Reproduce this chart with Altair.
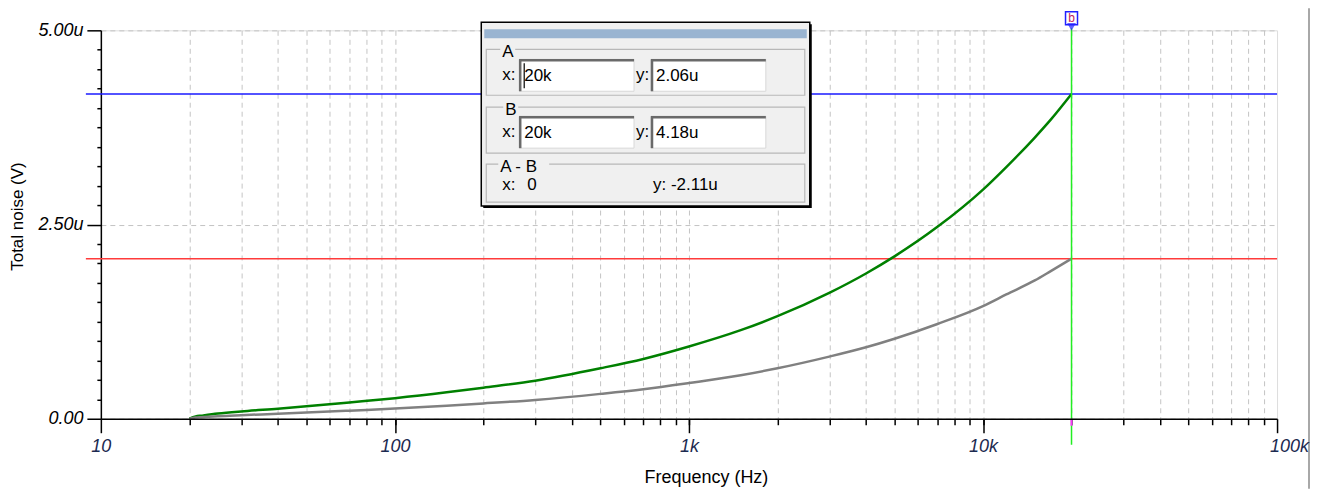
import altair as alt
import pandas as pd

# ---------------- data ----------------
freq_hz = [20, 21, 22, 25, 30, 40, 50, 70, 100, 150, 200, 300, 500, 700,
           1000, 1500, 2000, 3000, 4000, 5000, 7000, 10000, 12000, 15000, 17000, 20000]
noise_green_u = [0.0, 0.03, 0.04, 0.066, 0.094, 0.13, 0.16, 0.21, 0.265, 0.34, 0.40,
                 0.49, 0.65, 0.77, 0.93, 1.14, 1.32, 1.62, 1.87, 2.09, 2.47, 2.95, 3.24,
                 3.62, 3.85, 4.18]
noise_gray_u = [0.0, 0.015, 0.02, 0.033, 0.046, 0.064, 0.079, 0.104, 0.131, 0.168, 0.197,
                0.242, 0.32, 0.38, 0.46, 0.56, 0.65, 0.80, 0.92, 1.03, 1.22, 1.45, 1.60,
                1.78, 1.90, 2.06]

x_major_ticks = [10, 100, 1000, 10000, 100000]
x_minor_ticks = [20, 30, 40, 50, 60, 70, 80, 90,
                 100, 200, 300, 400, 500, 600, 700, 800, 900,
                 1000, 2000, 3000, 4000, 5000, 6000, 7000, 8000, 9000,
                 10000, 20000, 30000, 40000, 50000, 60000, 70000, 80000, 90000]
y_major_ticks = [0, 2.5, 5]
y_minor_ticks = [0.25, 0.5, 0.75, 1.0, 1.25, 1.5, 1.75, 2.0, 2.25, 2.75, 3.0, 3.25,
                 3.5, 3.75, 4.0, 4.25, 4.5, 4.75]

cursor_x = [20000]
cursor_a = [2.06]
cursor_b = [4.18]
cursor_labels = ["A", "B", "A - B"]
cursor_x_text = ["20k", "20k", "0"]
cursor_y_text = ["2.06u", "4.18u", "-2.11u"]

# ---------------- layout ----------------
W, H = 1178, 389
OX, OY = 101, 30  # page position of the plot origin
FONT = "Liberation Sans"

def px(x):
    return x - OX

def py(y):
    return y - OY

one = pd.DataFrame({"a": [0]})

xscale = alt.Scale(type="log", domain=[10, 100000], nice=False)
yscale = alt.Scale(domain=[0, 5], nice=False, zero=False)

long_df = pd.DataFrame({
    "f": freq_hz + freq_hz,
    "v": noise_green_u + noise_gray_u,
    "s": ["green"] * len(freq_hz) + ["gray"] * len(freq_hz),
})

x_major_axis = alt.Axis(
    values=x_major_ticks, orient="bottom", tickSize=14, tickWidth=1.5, tickColor="black",
    domainColor="black", domainWidth=1.5, grid=False, zindex=1,
    labelExpr="datum.value >= 1000 ? (datum.value / 1000) + 'k' : datum.value",
    labelFont=FONT, labelFontSize=18, labelFontStyle="italic", labelColor="#1c2a50",
    labelPadding=5, labelFlush=False, labelOverlap=False,
    labelOffset={"condition": {"test": "datum.value == 100000", "value": 12}, "value": 0},
    title="Frequency (Hz)", titleFont=FONT, titleFontSize=18, titleFontWeight="normal",
    titleColor="black", titleX=606, titleY=59, titleBaseline="middle", titleAlign="center",
)
x_minor_axis = alt.Axis(
    values=x_minor_ticks, orient="bottom", tickSize=6, tickWidth=1.5, tickColor="black",
    domain=False, labels=False, title=None, grid=True, gridColor="#c4c4c4",
    gridDash=[5, 4], gridWidth=1,
)
y_major_axis = alt.Axis(
    values=y_major_ticks, orient="left", tickSize=14, tickWidth=1.5, tickColor="black",
    domainColor="black", domainWidth=1.5, grid=True, gridColor="#c4c4c4", gridDash=[5, 4],
    labelExpr="format(datum.value, '.2f') + (datum.value == 0 ? '' : 'u')",
    labelFont=FONT, labelFontSize=18, labelFontStyle="italic", labelColor="black",
    labelPadding=4, labelFlush=False, labelOverlap=False,
    title="Total noise (V)", titleFont=FONT, titleFontSize=17, titleFontWeight="normal",
    titleColor="black", titleX=-83, titleY=186, titleAngle=270, titleBaseline="middle",
    titleAlign="center",
)
y_minor_axis = alt.Axis(
    values=y_minor_ticks, orient="left", tickSize=4, tickWidth=1.5, tickColor="black",
    domain=False, labels=False, title=None, grid=False,
)

minor_layer = alt.Chart(long_df).mark_point(opacity=0).encode(
    x=alt.X("f:Q", scale=xscale, axis=x_minor_axis),
    y=alt.Y("v:Q", scale=yscale, axis=y_minor_axis),
)

cursor_a_line = alt.Chart(pd.DataFrame({"v": cursor_a})).mark_rule(
    color="#ff3b3b", strokeWidth=1.5, clip=False
).encode(y=alt.Y("v:Q", scale=yscale, axis=None), x=alt.value(-15), x2=alt.value(W))

cursor_b_line = alt.Chart(pd.DataFrame({"v": cursor_b})).mark_rule(
    color="#1a1aff", strokeWidth=1.5, clip=False
).encode(y=alt.Y("v:Q", scale=yscale, axis=None), x=alt.value(-15), x2=alt.value(W))

curves = alt.Chart(long_df).mark_line(strokeWidth=2.5, interpolate="monotone").encode(
    x=alt.X("f:Q", scale=xscale, axis=x_major_axis),
    y=alt.Y("v:Q", scale=yscale, axis=y_major_axis),
    color=alt.Color("s:N", scale=alt.Scale(domain=["green", "gray"],
                                           range=["#008000", "#808080"]), legend=None),
    detail="s:N",
)

cursor_df = pd.DataFrame({"f": cursor_x})
cursor_v = alt.Chart(cursor_df).mark_rule(color="#22ee22", strokeWidth=1.5, clip=False).encode(
    x=alt.X("f:Q", scale=xscale, axis=None), y=alt.value(py(28)), y2=alt.value(py(445)))
cursor_mag = alt.Chart(cursor_df).mark_rule(color="#ff33ff", strokeWidth=2, clip=False).encode(
    x=alt.X("f:Q", scale=xscale, axis=None), y=alt.value(py(419)), y2=alt.value(py(426)))
marker_box = alt.Chart(cursor_df).mark_rect(
    fill="white", stroke="#2020ff", strokeWidth=1.5, clip=False, width=12, height=13
).encode(x=alt.X("f:Q", scale=xscale, axis=None), y=alt.value(py(18)))
marker_tip = alt.Chart(cursor_df).mark_point(
    shape="triangle-down", fill="#2020ff", stroke="#2020ff", size=30, filled=True, clip=False
).encode(x=alt.X("f:Q", scale=xscale, axis=None), y=alt.value(py(26)))
marker_txt = alt.Chart(cursor_df).mark_text(
    text="b", font=FONT, fontSize=12, color="#c02060", clip=False, baseline="middle"
).encode(x=alt.X("f:Q", scale=xscale, axis=None), y=alt.value(py(18)))


def rect(x1, y1, x2, y2, fill="none", stroke=None, sw=1.0):
    kw = dict(clip=False)
    if fill != "none":
        kw["fill"] = fill
    else:
        kw["fillOpacity"] = 0
    if stroke:
        kw["stroke"] = stroke
        kw["strokeWidth"] = sw
    return alt.Chart(one).mark_rect(**kw).encode(
        x=alt.value(px(x1)), x2=alt.value(px(x2)), y=alt.value(py(y1)), y2=alt.value(py(y2)))


def hline(x1, x2, y, color, sw=1.0):
    return alt.Chart(one).mark_rule(color=color, strokeWidth=sw, clip=False).encode(
        x=alt.value(px(x1)), x2=alt.value(px(x2)), y=alt.value(py(y)))


def vline(x, y1, y2, color, sw=1.0):
    return alt.Chart(one).mark_rule(color=color, strokeWidth=sw, clip=False).encode(
        x=alt.value(px(x)), y=alt.value(py(y1)), y2=alt.value(py(y2)))


def text(x, y, s, size=17, color="black", align="left"):
    return alt.Chart(one).mark_text(
        text=s, font=FONT, fontSize=size, color=color, align=align, baseline="middle", clip=False
    ).encode(x=alt.value(px(x)), y=alt.value(py(y)))


def field(x1, y1, x2, y2, s):
    return [
        rect(x1, y1, x2, y2, fill="white", stroke="#d8d8d8", sw=1),
        hline(x1, x2, y1 + 1, "#6a6a6a", 2.5),
        vline(x1 + 1, y1, y2, "#6a6a6a", 2.5),
        text(x1 + 5, (y1 + y2) / 2 + 1, s),
    ]


def group(x1, y1, x2, y2, label, lx):
    lw = 9 * len(label) + 4
    return [
        rect(x1, y1, x2, y2, stroke="#b8b8b8", sw=1.2),
        rect(lx - 2, y1 - 3, lx + lw, y1 + 3, fill="#f0f0f0"),
        text(lx, y1 + 3, label),
    ]


dialog = [
    rect(484, 24, 813, 208, fill="black"),
    rect(482, 22, 811, 206, fill="#f0f0f0", stroke="black", sw=1.5),
    rect(485, 29, 808, 38, fill="#99b4d1"),
]
dialog += group(487, 49, 806, 95, cursor_labels[0], 503)
dialog += [text(503, 75, "x:"), text(637, 75, "y:")]
dialog += field(520, 59, 635, 91, cursor_x_text[0])
dialog += field(652, 59, 767, 91, cursor_y_text[0])
dialog += [vline(525, 63, 88, "black", 1.2)]
dialog += group(487, 107, 806, 153, cursor_labels[1], 506)
dialog += [text(503, 132, "x:"), text(637, 132, "y:")]
dialog += field(520, 116, 635, 148, cursor_x_text[1])
dialog += field(652, 116, 767, 148, cursor_y_text[1])
dialog += group(487, 164, 806, 202, cursor_labels[2], 501)
dialog += [text(503, 185, "x:"), text(528, 185, cursor_x_text[2]),
           text(654, 185, "y: " + cursor_y_text[2])]

frame_right = vline(1311, 8, 489, "#a8a8a8", 2)

chart = alt.layer(
    minor_layer, frame_right, cursor_a_line, cursor_b_line, curves,
    cursor_v, cursor_mag, marker_box, marker_tip, marker_txt,
    *dialog,
).resolve_axis(x="independent", y="independent").properties(
    width=W, height=H,
    autosize=alt.AutoSizeParams(type="none"),
    padding={"left": 93, "top": 22, "right": 33, "bottom": 70},
).configure_view(stroke="#bdbdbd", strokeWidth=1.2).configure(background="white")

chart.save("out.html", embed_options={"renderer": "svg", "actions": False})
